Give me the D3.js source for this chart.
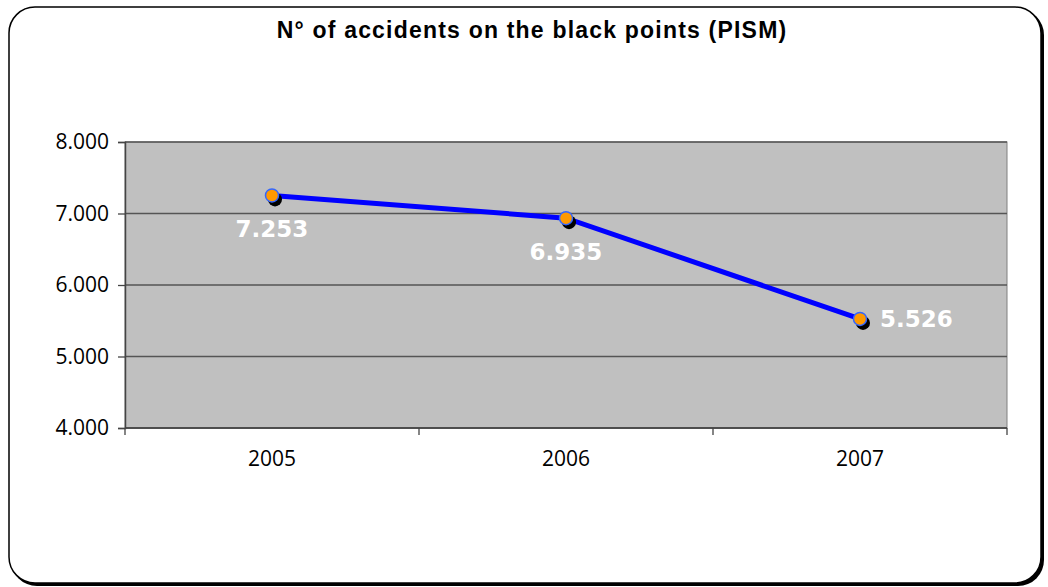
<!DOCTYPE html>
<html><head><meta charset="utf-8">
<script src="https://cdn.jsdelivr.net/npm/d3@7"></script>
<style>body{margin:0;background:#fff;}svg{display:block;}</style>
</head><body>
<script>
const years = ["2005","2006","2007"];
const accidents = [7253, 6935, 5526];
const labels = ["7.253","6.935","5.526"];
const yTicks = [4000,5000,6000,7000,8000];
const yTickLabels = ["4.000","5.000","6.000","7.000","8.000"];
const title = "N° of accidents on the black points (PISM)";

const W=1048,H=587;
const svg=d3.select("body").append("svg").attr("width",W).attr("height",H);
// outer frame with shadow
svg.append("rect").attr("x",11).attr("y",9).attr("width",1033).attr("height",577).attr("rx",26).attr("fill","#000");
svg.append("rect").attr("x",9).attr("y",7).attr("width",1032).attr("height",576).attr("rx",26).attr("fill","#fff").attr("stroke","#000").attr("stroke-width",1.5);

const L=125,R=1007,T=142,B=428;
const x=d3.scaleBand().domain(years).range([L,R]);
const y=d3.scaleLinear().domain([4000,8000]).range([B,T]);

svg.append("rect").attr("x",L).attr("y",T).attr("width",R-L).attr("height",B-T).attr("fill","#C0C0C0").attr("stroke","#808080").attr("stroke-width",1);
svg.append("g").selectAll("line").data(yTicks).join("line")
  .attr("x1",L).attr("x2",R).attr("y1",d=>y(d)).attr("y2",d=>y(d)).attr("stroke","#555").attr("stroke-width",1.3);

const yAxis=d3.axisLeft(y).tickValues(yTicks).tickFormat((d,i)=>yTickLabels[i]).tickSize(7).tickPadding(9);
const gy=svg.append("g").attr("transform",`translate(${L},0)`).call(yAxis);
gy.select(".domain").attr("stroke","#444").attr("stroke-width",1.5);
gy.selectAll(".tick line").attr("stroke","#444").attr("stroke-width",1.3);
gy.selectAll("text").attr("font-family","Open Sans").attr("font-size",21).attr("fill","#000");

// x axis with boundary ticks
const gx=svg.append("g").attr("transform",`translate(0,${B})`);
gx.append("line").attr("x1",L).attr("x2",R).attr("stroke","#444").attr("stroke-width",1.5);
const bounds=[L].concat(years.map(d=>x(d)+x.bandwidth()));
gx.selectAll(".bt").data(bounds).join("line").attr("x1",d=>d).attr("x2",d=>d).attr("y1",0).attr("y2",7).attr("stroke","#444").attr("stroke-width",1.3);
gx.selectAll("text").data(years).join("text").attr("x",d=>x(d)+x.bandwidth()/2).attr("y",38)
  .attr("text-anchor","middle").attr("font-family","Open Sans").attr("font-size",21).text(d=>d);

const cx=(d,i)=>x(years[i])+x.bandwidth()/2;
const line=d3.line().x((d,i)=>cx(d,i)).y(d=>y(d));
svg.append("path").datum(accidents).attr("d",line).attr("fill","none").attr("stroke","#0000FF").attr("stroke-width",5);
svg.append("g").selectAll("circle").data(accidents).join("circle")
  .attr("cx",(d,i)=>cx(d,i)+3).attr("cy",d=>y(d)+4).attr("r",7).attr("fill","#000");
svg.append("g").selectAll("circle").data(accidents).join("circle")
  .attr("cx",(d,i)=>cx(d,i)).attr("cy",d=>y(d)).attr("r",6.5).attr("fill","#FF9900").attr("stroke","#3366FF").attr("stroke-width",1.5);

const lblPos=[{dx:0,dy:42,a:"middle"},{dx:0,dy:42,a:"middle"},{dx:20,dy:8,a:"start"}];
svg.append("g").selectAll("text").data(accidents).join("text")
  .attr("x",(d,i)=>cx(d,i)+lblPos[i].dx).attr("y",(d,i)=>y(d)+lblPos[i].dy)
  .attr("text-anchor",(d,i)=>lblPos[i].a).attr("font-family","DejaVu Sans").attr("font-weight","bold")
  .attr("font-size",23).attr("fill","#fff").text((d,i)=>labels[i]);

svg.append("text").attr("x",532).attr("y",38).attr("text-anchor","middle").attr("font-family","Liberation Sans, Arial")
  .attr("font-weight","bold").attr("font-size",23).attr("letter-spacing",1.2).text(title);
</script>
</body></html>
